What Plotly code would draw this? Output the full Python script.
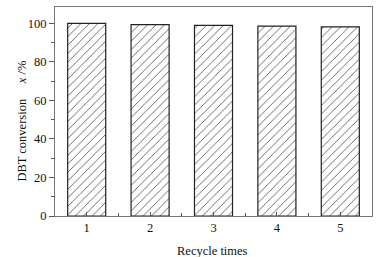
import plotly.graph_objects as go

categories = [1, 2, 3, 4, 5]
conversion = [100.0, 99.4, 99.0, 98.6, 98.2]
x_tick_labels = ["1", "2", "3", "4", "5"]
y_tick_vals = [0, 20, 40, 60, 80, 100]

FONT = "Liberation Serif"
FS = 12.5

fig = go.Figure()
fig.add_trace(go.Bar(
    x=categories,
    y=conversion,
    width=0.6,
    marker=dict(
        color="white",
        line=dict(color="#222222", width=1.2),
        pattern=dict(shape="/", size=6, solidity=0.13, fgcolor="#444444", bgcolor="white"),
    ),
    showlegend=False,
))

fig.update_layout(
    template="none",
    width=380, height=257,
    margin=dict(l=55, r=8, t=7, b=41, autoexpand=False),
    paper_bgcolor="white", plot_bgcolor="white",
    font=dict(family=FONT, size=FS, color="#111111"),
    xaxis=dict(
        automargin=False,
        range=[0.5, 5.5],
        tickmode="array", tickvals=categories, ticktext=x_tick_labels,
        ticks="inside", ticklen=4, tickwidth=1, tickcolor="#555555",
        minor=dict(tickvals=[1.5, 2.5, 3.5, 4.5], ticks="inside", ticklen=3, tickcolor="#555555"),
        showline=True, linecolor="#777777", linewidth=1, mirror=True,
        showgrid=False, zeroline=False,
        tickfont=dict(family=FONT, size=FS, color="#111111"),
    ),
    yaxis=dict(
        automargin=False,
        range=[0, 108.5],
        tickmode="array", tickvals=y_tick_vals,
        ticks="outside", ticklen=5, tickwidth=1, tickcolor="#555555",
        minor=dict(tickvals=[10, 30, 50, 70, 90], ticks="outside", ticklen=3, tickcolor="#555555"),
        showline=True, linecolor="#777777", linewidth=1, mirror=True,
        showgrid=False, zeroline=False,
        tickfont=dict(family=FONT, size=FS, color="#111111"),
    ),
)

fig.add_annotation(
    text="DBT conversion\u00a0\u00a0\u00a0\u00a0\u00a0<i>x</i> /%",
    xref="paper", yref="paper", x=-0.107, y=0.452,
    xanchor="center", yanchor="middle", textangle=-90, showarrow=False,
    font=dict(family=FONT, size=FS, color="#111111"),
)
fig.add_annotation(
    text="Recycle times",
    xref="paper", yref="paper", x=0.497, y=-0.124,
    xanchor="center", yanchor="top", showarrow=False,
    font=dict(family=FONT, size=FS, color="#111111"),
)

fig.write_html(
    "out.html",
    config={"displayModeBar": False},
    post_script="document.body.style.margin='0';document.body.style.padding='0';",
)
